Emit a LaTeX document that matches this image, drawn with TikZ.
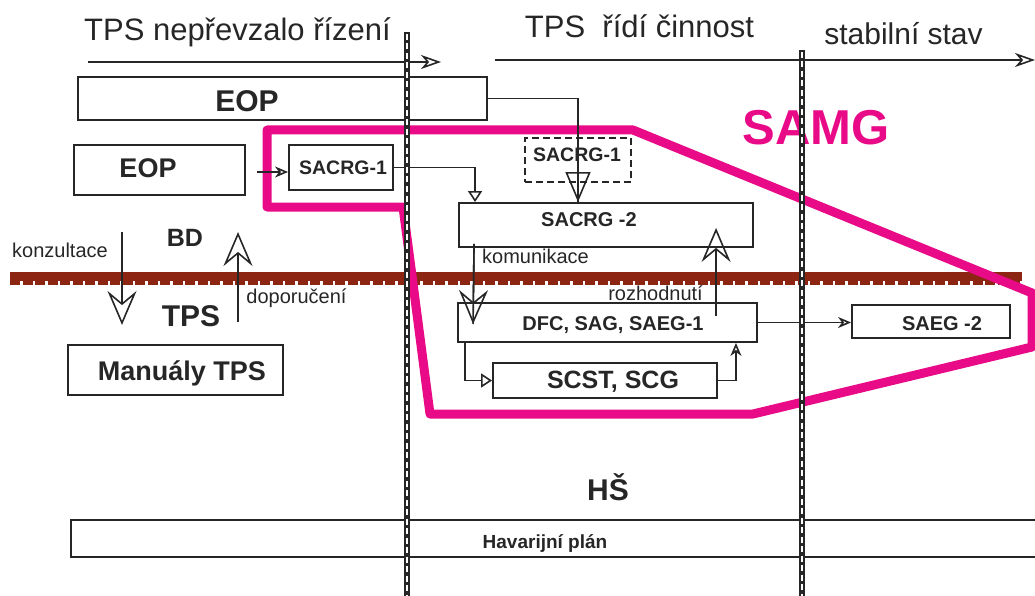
\documentclass[tikz,border=0pt]{standalone}
\usepackage{fontspec}
\setmainfont{Liberation Sans}
\usetikzlibrary{arrows.meta,calc}
\definecolor{ink}{RGB}{38,38,38}
\definecolor{samgpink}{RGB}{232,10,135}
\definecolor{earth}{RGB}{140,38,18}
\newcommand\fsz[1]{\fontsize{#1}{#1}\selectfont}
\begin{document}
\begin{tikzpicture}[x=1pt,y=-1pt,
  box/.style={draw=ink, line width=1.9pt, inner sep=0pt},
  dbox/.style={box, dash pattern=on 7pt off 4pt},
  txt/.style={text=ink, inner sep=0pt, anchor=base},
  lbl/.style={txt, font=\fsz{20}},
  conn/.style={draw=ink, line width=1.6pt},
  tipA/.style={-{Stealth[open,length=20pt,width=14pt,inset=6pt]}},
  tipV/.style={-{Stealth[open,length=34pt,width=29pt,inset=12pt]}},
  tipS/.style={-{Stealth[open,length=13pt,width=11pt,inset=4pt]}},
  tipT/.style={-{Triangle[open,length=30pt,width=25pt]}},
  tipt/.style={-{Triangle[open,length=11pt,width=14pt]}},
  vsep/.style={draw=ink, line width=6pt},
  vsepin/.style={draw=white, line width=2.6pt, dash pattern=on 6pt off 3.5pt},
  samgline/.style={draw=samgpink, line width=9pt, line join=round}
]
\useasboundingbox (0,0) rectangle (1035,596);

% separation band
\coordinate (bandL) at (10,276.5);
\coordinate (bandR) at (1022,276.5);
\draw[earth, line width=9pt] (bandL) -- (bandR);
\draw[earth, line width=4pt, dash pattern=on 10pt off 2.5pt] ([yshift=-6pt]bandL) -- ([yshift=-6pt]bandR);

% SAMG region
\draw[samgline] (267,130) -- (633,130) -- (1032,293) -- (1032,347) -- (753,414) -- (430,414) -- (403,207) -- (267,207) -- cycle;

% titles
\node[txt, font=\fsz{31}] (t1) at (237.5,41) {TPS nepřevzalo řízení};
\node[txt, font=\fsz{31}] (t2) at (639.5,38) {TPS\ \ řídí činnost};
\node[txt, font=\fsz{30}] (t3) at (903.5,45) {stabilní stav};
\coordinate (a1s) at (88,62);
\coordinate (a1e) at (441,62);
\coordinate (a2s) at (495,60);
\coordinate (a2e) at (1035,60);
\draw[conn, tipA] (a1s) -- (a1e);
\draw[conn, tipA] (a2s) -- (a2e);

\node[txt, font=\bfseries\fsz{49}, text=samgpink] (samg) at (816,145) {SAMG};

% boxes
\node[box, minimum width=409pt, minimum height=43pt] (eopA) at (282.5,98.5) {};
\node[txt, font=\bfseries\fsz{30}] (eopAt) at (247,112) {EOP};
\node[box, minimum width=171pt, minimum height=50pt] (eopB) at (159.5,170) {};
\node[txt, font=\bfseries\fsz{27}] (eopBt) at (148,178) {EOP};
\node[box, minimum width=104pt, minimum height=45pt] (sacrg1) at (341,167.5) {};
\node[txt, font=\bfseries\fsz{19.5}] (sacrg1t) at (343,175) {SACRG-1};
\node[dbox, minimum width=106pt, minimum height=44pt] (sacrg1d) at (578,160) {};
\node[txt, font=\bfseries\fsz{19.5}] (sacrg1dt) at (577,162) {SACRG-1};
\node[box, minimum width=294pt, minimum height=44pt] (sacrg2) at (606,225) {};
\node[txt, font=\bfseries\fsz{20}] (sacrg2t) at (589,226) {SACRG -2};
\node[box, minimum width=299pt, minimum height=39pt] (dfc) at (607.5,322.5) {};
\node[txt, font=\bfseries\fsz{20}] (dfct) at (613,330) {DFC, SAG, SAEG-1};
\node[box, minimum width=224pt, minimum height=35pt] (scst) at (605,380.5) {};
\node[txt, font=\bfseries\fsz{25}] (scstt) at (613,388) {SCST, SCG};
\node[box, minimum width=158pt, minimum height=33pt] (saeg2) at (931,321.5) {};
\node[txt, font=\bfseries\fsz{20}] (saeg2t) at (942,330) {SAEG -2};
\node[box, minimum width=215pt, minimum height=50pt] (manualy) at (175.5,370) {};
\node[txt, font=\bfseries\fsz{27}] (manualyt) at (182,380) {Manuály TPS};
\node[box, minimum width=969pt, minimum height=37pt] (havplan) at (555.5,538.5) {};
\node[txt, font=\bfseries\fsz{19}] (havplant) at (545,548) {Havarijní plán};

% free labels
\node[txt, font=\bfseries\fsz{25}] (bd) at (185,246) {BD};
\node[txt, font=\bfseries\fsz{30}] (tps) at (191,326) {TPS};
\node[txt, font=\bfseries\fsz{30}] (hs) at (608,500) {HŠ};
\node[lbl] (konz) at (60,257) {konzultace};
\node[lbl] (dopor) at (296.5,303) {doporučení};
\node[lbl] (komu) at (535.5,263) {komunikace};
\node[lbl] (rozh) at (655.5,300) {rozhodnutí};

% connectors
\draw[conn] (eopA.east) -| (sacrg2.north -| sacrg1d.center);
\draw[conn, tipT] ([yshift=-10pt]sacrg1d.center) -- (sacrg2.north -| sacrg1d.center);
\coordinate (eopBo) at (257,172);
\draw[conn, tipS] (eopBo) -- (eopBo -| sacrg1.west);
\draw[conn, tipt] (sacrg1.east) -| ([xshift=17pt]sacrg2.north west);
\draw[conn] ([shift={(16pt,4pt)}]sacrg2.south west) -- ([shift={(16pt,-22pt)}]dfc.north west);
\draw[conn, tipV] ([shift={(16pt,4pt)}]sacrg2.south west) -- ([shift={(16pt,-22pt)}]dfc.north west);
\draw[conn, tipV] ([shift={(259pt,-14pt)}]dfc.north west) -- ([shift={(258pt,20pt)}]sacrg2.south west);
\draw[conn, tipt] ([xshift=8pt]dfc.south west) |- (scst.west);
\draw[conn, tipS] (scst.east) -| ([xshift=-22pt]dfc.south east);
\draw[conn, tipS] (dfc.east) -- (dfc.east -| saeg2.west);
\coordinate (kz1) at (122,232);
\coordinate (kz2) at (122,325);
\draw[conn, tipV] (kz1) -- (kz2);
\coordinate (dp1) at (238,322);
\coordinate (dp2) at (238,232);
\draw[conn, tipV] (dp1) -- (dp2);

% phase separators
\coordinate (v1a) at (407,32);
\coordinate (v1b) at (407,596);
\coordinate (v2a) at (802,50);
\coordinate (v2b) at (802,596);
\draw[vsep] (v1a) -- (v1b);
\draw[vsepin] ([yshift=-2pt]v1a) -- (v1b);
\draw[vsep] (v2a) -- (v2b);
\draw[vsepin] ([yshift=-2pt]v2a) -- (v2b);
\end{tikzpicture}
\end{document}
